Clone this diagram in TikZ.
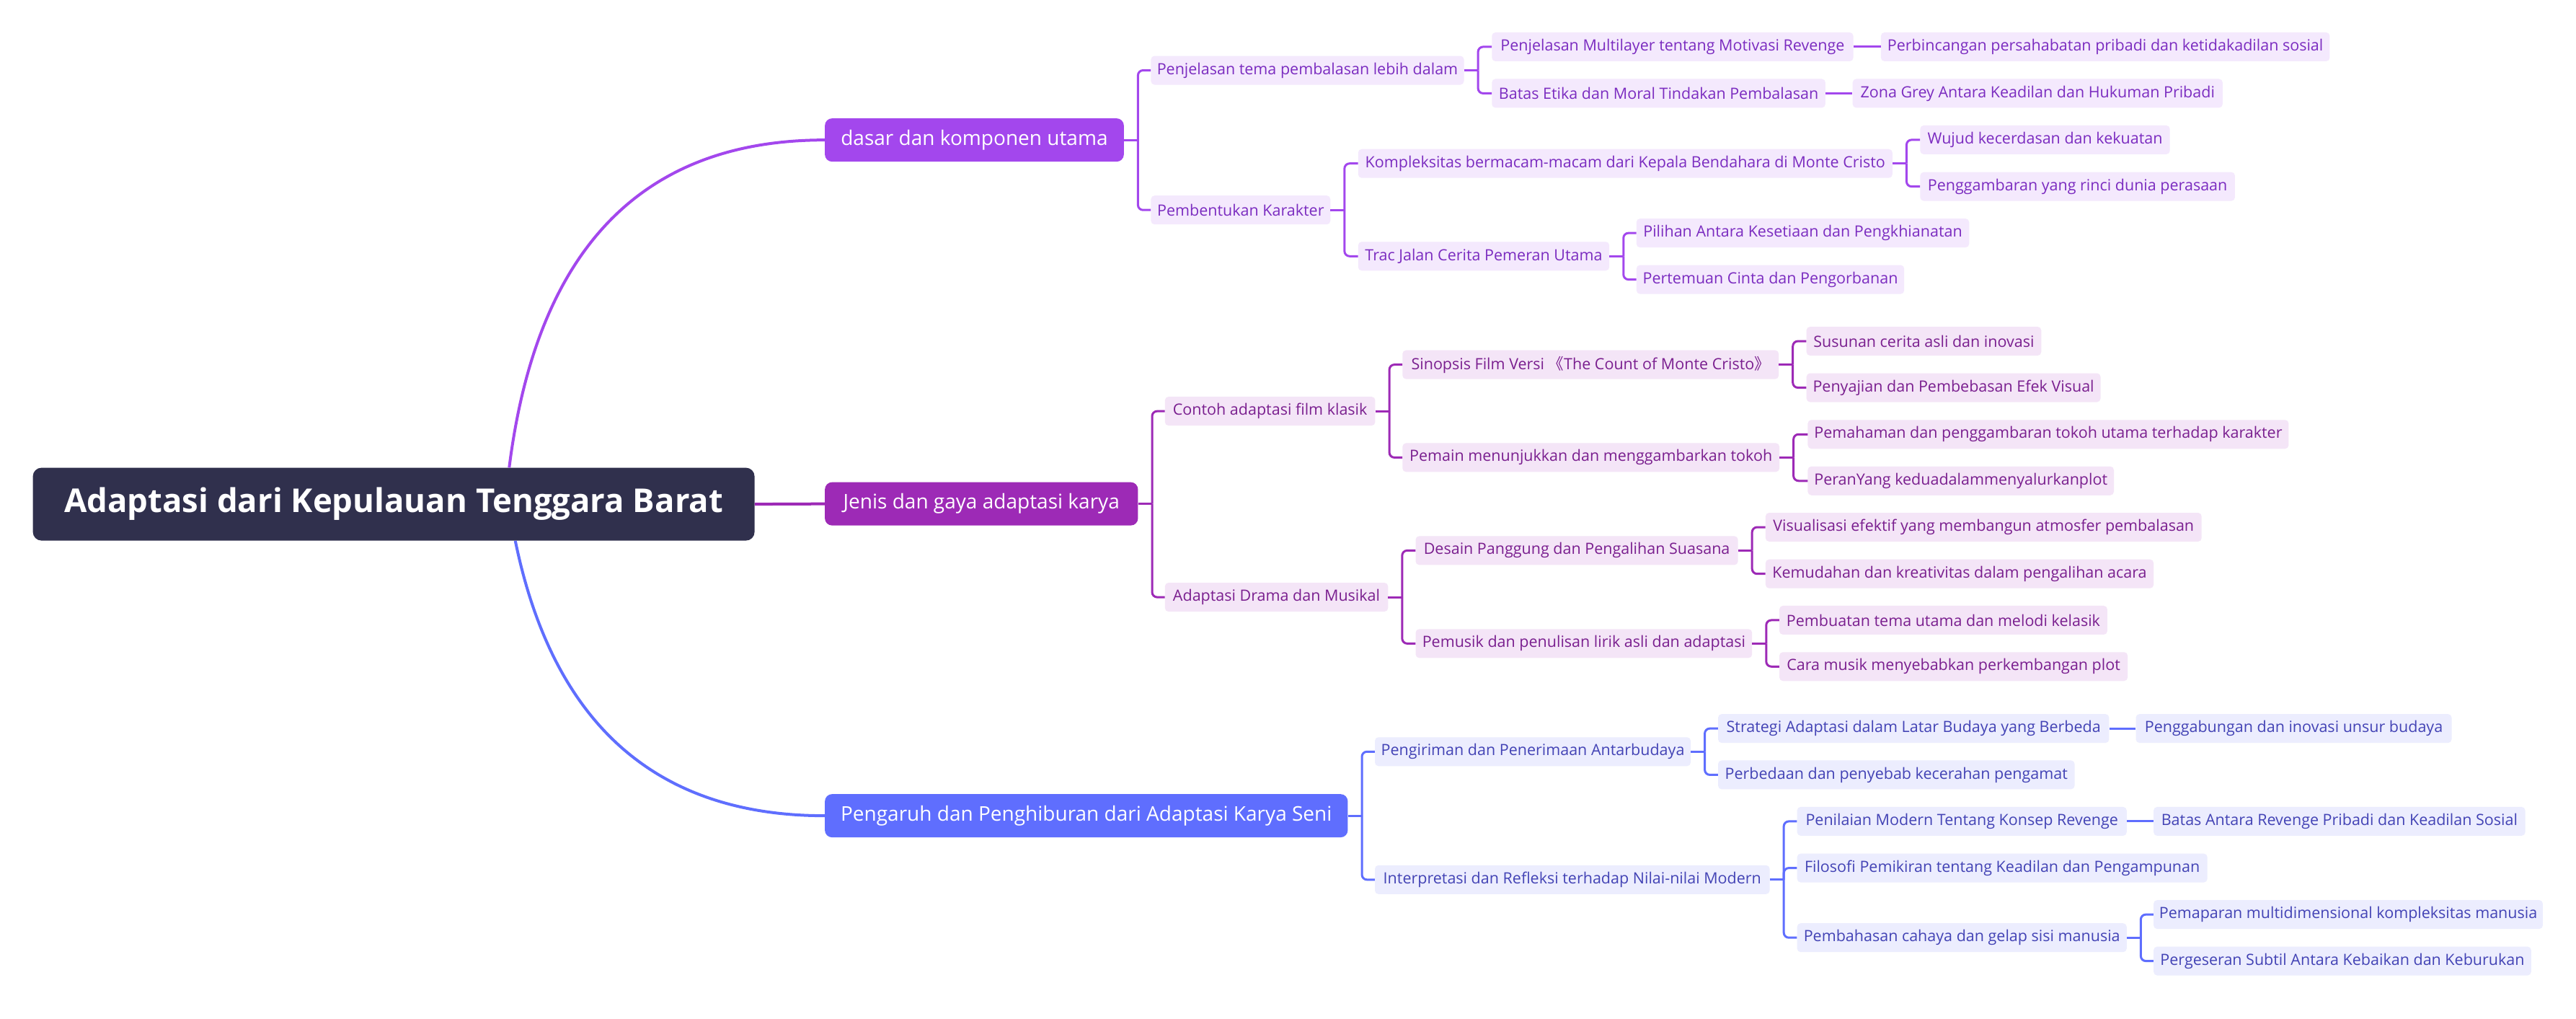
\documentclass[tikz,border=0pt]{standalone}
\usepackage{fontspec}
\setmainfont{Open Sans}
\newfontfamily\cjk{Noto Sans CJK SC}
\definecolor{rootc}{HTML}{30304D}
\definecolor{ca}{HTML}{A347ED}
\definecolor{cafill}{HTML}{F4E9FD}
\definecolor{catext}{HTML}{7B2CC0}
\definecolor{cb}{HTML}{9D2AB6}
\definecolor{cbfill}{HTML}{F4E5F7}
\definecolor{cbtext}{HTML}{7A1F8F}
\definecolor{cc}{HTML}{5F6EFE}
\definecolor{ccfill}{HTML}{ECEDFE}
\definecolor{cctext}{HTML}{4343B5}
\tikzset{
  kid/.style={rounded corners=5pt, minimum height=40pt, inner sep=0pt, anchor=west,
    font=\fontsize{21.5}{25}\selectfont},
  kidA/.style={kid, fill=cafill, text=catext},
  kidB/.style={kid, fill=cbfill, text=cbtext},
  kidC/.style={kid, fill=ccfill, text=cctext},
  topnode/.style={rounded corners=10pt, minimum height=60pt, inner sep=0pt, anchor=west,
    text=white, font=\fontsize{28}{32}\selectfont},
  rootnode/.style={rounded corners=12pt, fill=rootc, text=white, inner sep=0pt,
    minimum height=101pt, font=\bfseries\fontsize{45.5}{52}\selectfont},
  linkA/.style={draw=ca, line width=3pt, rounded corners=7pt},
  linkB/.style={draw=cb, line width=3pt, rounded corners=7pt},
  linkC/.style={draw=cc, line width=3pt, rounded corners=7pt},
}
\newcommand\kid[6]{\node[#2, minimum width={(#4-#3)*2.2787pt}] (#1) at (#3,#5) {#6};}
\newcommand\fork[3]{%
  \draw[#1] (#2.east) -- ++(8.5,0);
  \foreach \c in {#3} {\draw[#1] (#2.east) ++(8.5,0) |- (\c.west);}}
\begin{document}
\begin{tikzpicture}[x=2.2787pt,y=-2.2787pt]
\fill[white] (0,0) rectangle (1568,620);
\useasboundingbox (0,0) rectangle (1568,620);

% root
\node[rootnode, minimum width={439.3*2.2787pt}] (R) at (239.65,306.8) {Adaptasi dari Kepulauan Tenggara Barat};

% level 1
\kid{LA}{topnode, fill=ca}{502}{684}{85.2}{dasar dan komponen utama}
\kid{LB}{topnode, fill=cb}{502}{692.6}{306.6}{Jenis dan gaya adaptasi karya}
\kid{LC}{topnode, fill=cc}{502}{820.3}{496.4}{Pengaruh dan Penghiburan dari Adaptasi Karya Seni}

% branch A
\kid{A1}{kidA}{700.5}{891}{42.8}{Penjelasan tema pembalasan lebih dalam}
\kid{A2}{kidA}{700.5}{809.7}{127.8}{Pembentukan Karakter}
\kid{A11}{kidA}{908}{1128}{28.5}{Penjelasan Multilayer tentang Motivasi Revenge}
\kid{A111}{kidA}{1144.8}{1418}{28.5}{Perbincangan persahabatan pribadi dan ketidakadilan sosial}
\kid{A12}{kidA}{908}{1111}{56.8}{Batas Etika dan Moral Tindakan Pembalasan}
\kid{A121}{kidA}{1127.6}{1352.8}{56.8}{Zona Grey Antara Keadilan dan Hukuman Pribadi}
\kid{A21}{kidA}{826.6}{1151.8}{99.5}{Kompleksitas bermacam-macam dari Kepala Bendahara di Monte Cristo}
\kid{A211}{kidA}{1168.7}{1320.7}{85.1}{Wujud kecerdasan dan kekuatan}
\kid{A212}{kidA}{1168.7}{1360.3}{113.5}{Penggambaran yang rinci dunia perasaan}
\kid{A22}{kidA}{826.6}{979.5}{155.9}{Trac Jalan Cerita Pemeran Utama}
\kid{A221}{kidA}{996}{1198.5}{141.8}{Pilihan Antara Kesetiaan dan Pengkhianatan}
\kid{A222}{kidA}{996}{1159}{170.1}{Pertemuan Cinta dan Pengorbanan}

% branch B
\kid{B1}{kidB}{709}{837}{250.2}{Contoh adaptasi film klasik}
\kid{B2}{kidB}{709}{844.8}{363.4}{Adaptasi Drama dan Musikal}
\kid{B11}{kidB}{853.6}{1082.6}{221.9}{Sinopsis Film Versi {\cjk 《}The Count of Monte Cristo{\cjk 》}}
\kid{B111}{kidB}{1099.5}{1242.4}{207.6}{Susunan cerita asli dan inovasi}
\kid{B112}{kidB}{1099.5}{1278.5}{235.9}{Penyajian dan Pembebasan Efek Visual}
\kid{B12}{kidB}{853.6}{1083}{278.4}{Pemain menunjukkan dan menggambarkan tokoh}
\kid{B121}{kidB}{1100.3}{1393}{264.3}{Pemahaman dan penggambaran tokoh utama terhadap karakter}
\kid{B122}{kidB}{1100.3}{1286.6}{292.6}{PeranYang keduadalammenyalurkanplot}
\kid{B21}{kidB}{861.6}{1057.8}{335}{Desain Panggung dan Pengalihan Suasana}
\kid{B211}{kidB}{1074.6}{1340}{320.8}{Visualisasi efektif yang membangun atmosfer pembalasan}
\kid{B212}{kidB}{1074.6}{1310.8}{349.2}{Kemudahan dan kreativitas dalam pengalihan acara}
\kid{B22}{kidB}{861.6}{1066.4}{391.6}{Pemusik dan penulisan lirik asli dan adaptasi}
\kid{B221}{kidB}{1083}{1282.6}{377.4}{Pembuatan tema utama dan melodi kelasik}
\kid{B222}{kidB}{1083}{1295}{405.6}{Cara musik menyebabkan perkembangan plot}

% branch C
\kid{C1}{kidC}{836.8}{1029}{457.4}{Pengiriman dan Penerimaan Antarbudaya}
\kid{C2}{kidC}{836.8}{1077.1}{535.3}{Interpretasi dan Refleksi terhadap Nilai-nilai Modern}
\kid{C11}{kidC}{1045.7}{1283.7}{443.3}{Strategi Adaptasi dalam Latar Budaya yang Berbeda}
\kid{C111}{kidC}{1300}{1492.2}{443.3}{Penggabungan dan inovasi unsur budaya}
\kid{C12}{kidC}{1045.7}{1262.7}{471.5}{Perbedaan dan penyebab kecerahan pengamat}
\kid{C21}{kidC}{1093.8}{1294.4}{499.8}{Penilaian Modern Tentang Konsep Revenge}
\kid{C211}{kidC}{1310.8}{1537}{499.8}{Batas Antara Revenge Pribadi dan Keadilan Sosial}
\kid{C22}{kidC}{1093.8}{1343.5}{528.2}{Filosofi Pemikiran tentang Keadilan dan Pengampunan}
\kid{C23}{kidC}{1093.8}{1294.4}{570.6}{Pembahasan cahaya dan gelap sisi manusia}
\kid{C231}{kidC}{1310.8}{1547.7}{556.5}{Pemaparan multidimensional kompleksitas manusia}
\kid{C232}{kidC}{1310.8}{1540.6}{584.8}{Pergeseran Subtil Antara Kebaikan dan Keburukan}

% root connectors
\draw[ca, line width=4pt] ([xshift={70.3*2.2787pt}]R.north) .. controls +(16.7,-133) and +(-111.3,0) .. (LA.west);
\draw[cb, line width=4pt] (R.east) -- (LB.west);
\draw[cc, line width=4pt] ([xshift={74*2.2787pt}]R.south) .. controls +(22.9,111.5) and +(-102.7,0) .. (LC.west);

% forks
\fork{linkA}{LA}{A1,A2}
\fork{linkA}{A1}{A11,A12}
\fork{linkA}{A2}{A21,A22}
\fork{linkA}{A21}{A211,A212}
\fork{linkA}{A22}{A221,A222}
\draw[linkA] (A11.east) -- (A111.west);
\draw[linkA] (A12.east) -- (A121.west);

\fork{linkB}{LB}{B1,B2}
\fork{linkB}{B1}{B11,B12}
\fork{linkB}{B2}{B21,B22}
\fork{linkB}{B11}{B111,B112}
\fork{linkB}{B12}{B121,B122}
\fork{linkB}{B21}{B211,B212}
\fork{linkB}{B22}{B221,B222}

\fork{linkC}{LC}{C1,C2}
\fork{linkC}{C1}{C11,C12}
\fork{linkC}{C2}{C21,C22,C23}
\fork{linkC}{C23}{C231,C232}
\draw[linkC] (C11.east) -- (C111.west);
\draw[linkC] (C21.east) -- (C211.west);
\end{tikzpicture}
\end{document}
